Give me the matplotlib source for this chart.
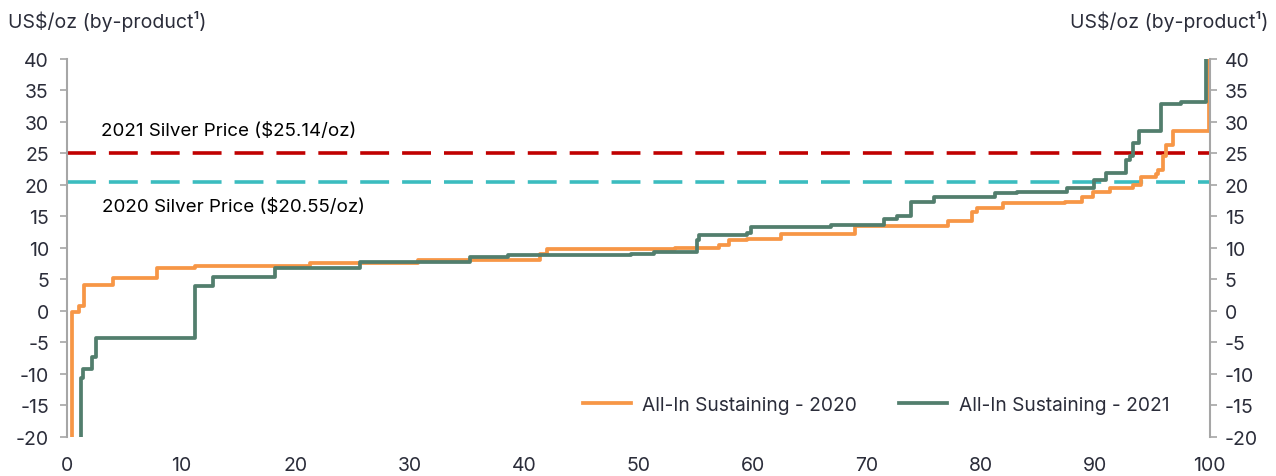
import matplotlib.pyplot as plt

plt.rcParams['font.family'] = ['Inter', 'DejaVu Sans']
plt.rcParams['axes.unicode_minus'] = False

# cumulative production (%) where each step starts, and cost level (US$/oz)
x_2020 = [0.4, 0.4, 1.08, 1.5, 4.05, 7.9, 11.2, 21.3, 30.7, 41.4, 42.0, 53.2, 57.1, 57.9,
          59.5, 62.5, 69.0, 77.1, 79.2, 79.6, 81.9, 87.3, 88.8, 89.8, 91.3, 93.3, 94.0,
          95.3, 95.5, 95.9, 96.2, 96.8, 99.95]
aisc_2020 = [-20, -0.2, 0.85, 4.2, 5.2, 6.8, 7.1, 7.6, 8.15, 9.0, 9.8, 9.95, 10.4, 11.2,
             11.5, 12.2, 13.55, 14.3, 15.7, 16.3, 17.1, 17.35, 18.05, 18.9, 19.5, 20.0, 21.2,
             21.7, 22.4, 24.65, 26.35, 28.5, 40]

x_2021 = [1.22, 1.22, 1.37, 2.16, 2.54, 11.2, 12.8, 18.2, 25.6, 35.3, 38.6, 49.4, 51.4,
          55.1, 55.3, 59.5, 59.9, 66.9, 71.5, 72.6, 73.9, 75.9, 81.2, 83.1, 87.5, 89.9,
          90.9, 92.7, 93.0, 93.3, 93.8, 95.7, 97.5, 99.7]
aisc_2021 = [-20, -10.7, -9.2, -7.35, -4.35, 4.0, 5.35, 6.9, 7.7, 8.5, 8.9, 9.1, 9.4,
             11.2, 12.1, 12.4, 13.4, 13.7, 14.6, 15.0, 17.3, 18.1, 18.7, 18.9, 19.5, 20.8,
             21.9, 23.9, 24.55, 26.7, 28.5, 32.9, 33.2, 40]

price_2021 = 25.14
price_2020 = 20.55

text_col = '#2b2d3a'
spine_col = '#a6a6a6'

fig = plt.figure(figsize=(12.76, 4.77), dpi=100)
ax = fig.add_axes([0.0525, 0.0818, 0.8955, 0.7925])

ax.axhline(price_2021, color='#c00000', lw=2.6, dashes=(8, 3.6))
ax.axhline(price_2020, color='#3bbcbf', lw=2.6, dashes=(8, 3.6))

ax.plot(x_2020, aisc_2020, drawstyle='steps-post', color='#f79646', lw=2.7,
        label='All-In Sustaining - 2020')
ax.plot(x_2021, aisc_2021, drawstyle='steps-post', color='#527e6d', lw=2.7,
        label='All-In Sustaining - 2021')

ax.text(3.0, 28.7, '2021 Silver Price ($25.14/oz)', fontsize=13.5, color='black', va='center')
ax.text(3.1, 16.6, '2020 Silver Price ($20.55/oz)', fontsize=13.5, color='black', va='center')

ax.set_xlim(0, 100)
ax.set_ylim(-20, 40)
ax.set_xticks(range(0, 101, 10))
ax.set_yticks(range(-20, 41, 5))

for s in ['top', 'bottom', 'right']:
    ax.spines[s].set_visible(False)
ax.spines['left'].set_color(spine_col)
ax.spines['left'].set_linewidth(1.5)
ax.tick_params(axis='y', length=5, width=1.2, color=spine_col, labelsize=14,
               labelcolor=text_col, pad=8)
ax.tick_params(axis='x', length=0, labelsize=14, labelcolor=text_col, pad=14)

ax2 = ax.twinx()
ax2.set_ylim(-20, 40)
ax2.set_yticks(range(-20, 41, 5))
for s in ['top', 'bottom', 'left']:
    ax2.spines[s].set_visible(False)
ax2.spines['right'].set_color(spine_col)
ax2.spines['right'].set_linewidth(1.5)
ax2.tick_params(axis='y', length=5, width=1.2, color=spine_col, labelsize=14,
                labelcolor=text_col, pad=6)

ax.legend(loc='center', bbox_to_anchor=(0.708, 0.085), ncol=2, frameon=False,
          fontsize=13.8, labelcolor=text_col, handlelength=2.5, columnspacing=2.2,
          handletextpad=0.6)

fig.text(0.006, 0.955, 'US$/oz (by-product¹)', fontsize=14, color=text_col, va='center')
fig.text(0.994, 0.955, 'US$/oz (by-product¹)', fontsize=14, color=text_col,
         va='center', ha='right')

plt.savefig('out.png', dpi=100)
